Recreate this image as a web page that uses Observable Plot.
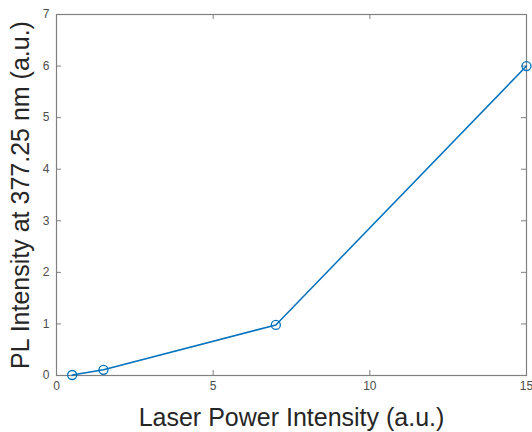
<!DOCTYPE html>
<html>
<head>
<meta charset="utf-8">
<script src="https://cdn.jsdelivr.net/npm/d3@7"></script>
<script src="https://cdn.jsdelivr.net/npm/@observablehq/plot@0.6"></script>
<style>
  html, body { margin: 0; padding: 0; background: #fff; }
  #chart svg { font-family: "Liberation Sans", Arial, sans-serif; }
  #chart [aria-label="x-axis label"] text,
  #chart [aria-label="y-axis label"] text { font-size: 25px; fill: #262626; }
  #chart [aria-label="x-axis tick label"] text,
  #chart [aria-label="y-axis tick label"] text { font-size: 12px; fill: #4d4d4d; }
</style>
</head>
<body>
<div id="chart"></div>
<script>
const laserPower = [0.5, 1.5, 7, 15];
const plIntensity = [0.01, 0.11, 0.98, 6.0];
const xTicks = [0, 5, 10, 15];
const yTicks = [0, 1, 2, 3, 4, 5, 6, 7];
const xLabel = "Laser Power Intensity (a.u.)";
const yLabel = "PL Intensity at 377.25 nm (a.u.)";

const data = laserPower.map((x, i) => ({x, y: plIntensity[i]}));

const W = 532, H = 432;
const mt = 14, mb = 57, ml = 56, mr = 6;
const fh = H - mt - mb, fw = W - ml - mr;
const tk = 5;
const axisColor = "#808080";

const plot = Plot.plot({
  width: W,
  height: H,
  marginTop: mt,
  marginBottom: mb,
  marginLeft: ml,
  marginRight: mr,
  x: {domain: [0, 15]},
  y: {domain: [0, 7]},
  marks: [
    Plot.frame({stroke: axisColor, strokeWidth: 1.2}),
    Plot.tickX(xTicks, {x: d => d, insetTop: fh - tk, stroke: axisColor}),
    Plot.tickX(xTicks, {x: d => d, insetBottom: fh - tk, stroke: axisColor}),
    Plot.tickY(yTicks, {y: d => d, insetRight: fw - tk, stroke: axisColor}),
    Plot.tickY(yTicks, {y: d => d, insetLeft: fw - tk, stroke: axisColor}),
    Plot.axisX({ticks: xTicks, tickSize: 0, tickPadding: 6, tickFormat: "d", label: xLabel, labelAnchor: "center", labelOffset: 50, labelArrow: "none"}),
    Plot.axisY({ticks: yTicks, tickSize: 0, tickPadding: 7, tickFormat: "d", label: yLabel, labelAnchor: "center", labelOffset: 45, labelArrow: "none"}),
    Plot.line(data, {x: "x", y: "y", stroke: "#0072BD", strokeWidth: 1.5}),
    Plot.dot(data, {x: "x", y: "y", r: 4.5, stroke: "#0072BD", strokeWidth: 1.3, fill: "white", fillOpacity: 0})
  ]
});
document.getElementById("chart").appendChild(plot);
</script>
</body>
</html>
